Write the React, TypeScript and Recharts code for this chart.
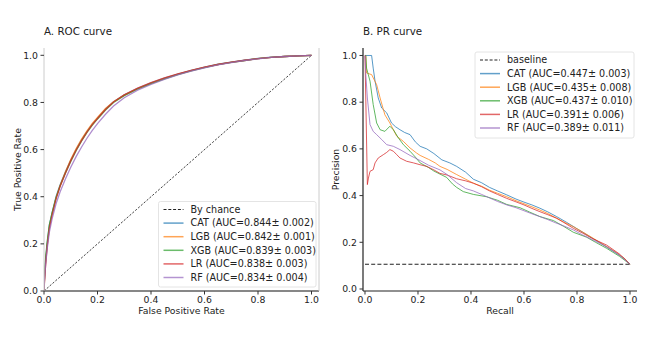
import { LineChart, Line, XAxis, YAxis } from "recharts"

const models = ["CAT", "LGB", "XGB", "LR", "RF"]
const colors = ["#1f77b4", "#ff7f0e", "#2ca02c", "#d62728", "#9467bd"]
const rocAuc = ["0.844± 0.002", "0.842± 0.001", "0.839± 0.003", "0.838± 0.003", "0.834± 0.004"]
const prAuc = ["0.447± 0.003", "0.435± 0.008", "0.437± 0.010", "0.391± 0.006", "0.389± 0.011"]
const ticks = [0, 0.2, 0.4, 0.6, 0.8, 1.0]

// [fpr, tpr]
const rocCat = [[0,0],[0.002,0.06],[0.006,0.13],[0.012,0.2],[0.02,0.28],[0.03,0.33],[0.045,0.4],[0.06,0.45],[0.08,0.505],[0.1,0.555],[0.12,0.6],[0.14,0.64],[0.16,0.675],[0.18,0.707],[0.2,0.733],[0.23,0.772],[0.26,0.803],[0.3,0.832],[0.35,0.86],[0.4,0.883],[0.45,0.903],[0.5,0.92],[0.55,0.936],[0.6,0.95],[0.65,0.962],[0.7,0.971],[0.75,0.979],[0.8,0.987],[0.85,0.992],[0.9,0.995],[0.95,0.998],[1,1]]
const rocLgb = [[0,0],[0.002,0.05],[0.006,0.12],[0.012,0.195],[0.02,0.27],[0.03,0.325],[0.045,0.395],[0.06,0.447],[0.08,0.505],[0.1,0.558],[0.12,0.603],[0.14,0.643],[0.16,0.678],[0.18,0.71],[0.2,0.736],[0.23,0.774],[0.26,0.803],[0.3,0.831],[0.35,0.858],[0.4,0.881],[0.45,0.901],[0.5,0.919],[0.55,0.935],[0.6,0.949],[0.65,0.961],[0.7,0.97],[0.75,0.978],[0.8,0.986],[0.85,0.991],[0.9,0.995],[0.95,0.998],[1,1]]
const rocXgb = [[0,0],[0.002,0.07],[0.006,0.14],[0.012,0.21],[0.02,0.28],[0.03,0.33],[0.045,0.395],[0.06,0.445],[0.08,0.5],[0.1,0.55],[0.12,0.595],[0.14,0.636],[0.16,0.672],[0.18,0.703],[0.2,0.73],[0.23,0.768],[0.26,0.8],[0.3,0.829],[0.35,0.857],[0.4,0.88],[0.45,0.9],[0.5,0.918],[0.55,0.934],[0.6,0.948],[0.65,0.96],[0.7,0.97],[0.75,0.978],[0.8,0.986],[0.85,0.991],[0.9,0.995],[0.95,0.998],[1,1]]
const rocLr = [[0,0],[0.002,0.04],[0.006,0.11],[0.012,0.19],[0.02,0.265],[0.03,0.32],[0.045,0.39],[0.06,0.443],[0.08,0.5],[0.1,0.552],[0.12,0.597],[0.14,0.637],[0.16,0.673],[0.18,0.705],[0.2,0.732],[0.23,0.77],[0.26,0.802],[0.3,0.832],[0.35,0.861],[0.4,0.884],[0.45,0.904],[0.5,0.921],[0.55,0.936],[0.6,0.95],[0.65,0.961],[0.7,0.971],[0.75,0.979],[0.8,0.986],[0.85,0.991],[0.9,0.995],[0.95,0.998],[1,1]]
const rocRf = [[0,0],[0.002,0.05],[0.006,0.11],[0.012,0.18],[0.02,0.25],[0.03,0.305],[0.045,0.37],[0.06,0.42],[0.08,0.475],[0.1,0.525],[0.12,0.57],[0.14,0.61],[0.16,0.647],[0.18,0.68],[0.2,0.71],[0.23,0.75],[0.26,0.785],[0.3,0.82],[0.35,0.852],[0.4,0.877],[0.45,0.898],[0.5,0.917],[0.55,0.933],[0.6,0.947],[0.65,0.959],[0.7,0.969],[0.75,0.978],[0.8,0.985],[0.85,0.991],[0.9,0.995],[0.95,0.998],[1,1]]
const chanceLine = [[0,0],[1,1]]

// [recall, precision]
const prCat = [[0,1],[0.025,1],[0.031,0.946],[0.038,0.89],[0.05,0.818],[0.063,0.775],[0.082,0.754],[0.1,0.711],[0.115,0.695],[0.132,0.682],[0.15,0.67],[0.17,0.661],[0.19,0.63],[0.208,0.611],[0.233,0.6],[0.26,0.58],[0.29,0.553],[0.32,0.54],[0.346,0.525],[0.38,0.5],[0.409,0.47],[0.44,0.455],[0.47,0.435],[0.5,0.42],[0.535,0.403],[0.57,0.385],[0.6,0.372],[0.63,0.36],[0.66,0.346],[0.69,0.33],[0.723,0.31],[0.76,0.286],[0.8,0.258],[0.849,0.224],[0.9,0.188],[0.95,0.152],[0.98,0.13],[1,0.106]]
const prLgb = [[0,1],[0.003,1],[0.006,0.925],[0.025,0.918],[0.044,0.875],[0.057,0.818],[0.075,0.746],[0.094,0.711],[0.107,0.682],[0.12,0.654],[0.145,0.632],[0.17,0.604],[0.195,0.582],[0.208,0.572],[0.24,0.555],[0.265,0.54],[0.283,0.525],[0.31,0.512],[0.346,0.49],[0.38,0.47],[0.409,0.453],[0.44,0.44],[0.47,0.423],[0.5,0.41],[0.535,0.395],[0.57,0.378],[0.6,0.365],[0.63,0.352],[0.66,0.338],[0.69,0.323],[0.72,0.305],[0.75,0.287],[0.786,0.267],[0.82,0.245],[0.86,0.218],[0.9,0.19],[0.95,0.155],[0.98,0.13],[1,0.106]]
const prXgb = [[0,1],[0.003,1],[0.006,0.946],[0.012,0.92],[0.019,0.89],[0.031,0.79],[0.044,0.711],[0.057,0.682],[0.075,0.675],[0.094,0.697],[0.107,0.682],[0.126,0.647],[0.145,0.618],[0.17,0.59],[0.19,0.565],[0.208,0.54],[0.24,0.52],[0.26,0.505],[0.283,0.492],[0.308,0.478],[0.33,0.45],[0.346,0.435],[0.371,0.417],[0.409,0.405],[0.459,0.395],[0.5,0.38],[0.535,0.362],[0.585,0.348],[0.62,0.33],[0.66,0.31],[0.711,0.293],[0.75,0.268],[0.786,0.243],[0.836,0.222],[0.87,0.2],[0.912,0.174],[0.96,0.14],[1,0.106]]
const prLr = [[0,1],[0.009,0.447],[0.013,0.475],[0.019,0.504],[0.031,0.511],[0.038,0.54],[0.05,0.561],[0.069,0.575],[0.082,0.585],[0.094,0.597],[0.107,0.59],[0.12,0.575],[0.132,0.561],[0.157,0.547],[0.183,0.54],[0.208,0.532],[0.233,0.525],[0.26,0.51],[0.283,0.495],[0.31,0.488],[0.346,0.472],[0.38,0.463],[0.409,0.453],[0.44,0.438],[0.47,0.42],[0.5,0.405],[0.535,0.388],[0.57,0.373],[0.6,0.36],[0.63,0.345],[0.66,0.331],[0.69,0.318],[0.723,0.303],[0.75,0.285],[0.786,0.26],[0.82,0.24],[0.86,0.215],[0.912,0.188],[0.96,0.15],[1,0.106]]
const prRf = [[0,1],[0.003,0.92],[0.009,0.818],[0.019,0.704],[0.031,0.675],[0.044,0.661],[0.063,0.64],[0.082,0.618],[0.107,0.611],[0.132,0.597],[0.17,0.572],[0.208,0.55],[0.24,0.53],[0.283,0.51],[0.31,0.49],[0.346,0.455],[0.38,0.43],[0.409,0.42],[0.44,0.405],[0.47,0.39],[0.5,0.375],[0.535,0.36],[0.57,0.348],[0.6,0.335],[0.63,0.322],[0.66,0.31],[0.69,0.297],[0.72,0.283],[0.75,0.27],[0.786,0.253],[0.82,0.232],[0.86,0.21],[0.912,0.181],[0.96,0.145],[1,0.106]]
const baseline = [[0,0.106],[1,0.106]]

const rocSeries = [rocCat, rocLgb, rocXgb, rocLr, rocRf]
const prSeries = [prCat, prLgb, prXgb, prLr, prRf]

const font = "DejaVu Sans"
const toPts = (pairs: number[][]) => pairs.map(([x, y]) => ({ x, y }))
const fmt = (v: number) => v.toFixed(1)
const tickStyle = { fontSize: 9.3, fill: "#222", fontFamily: font }

function LegendBox({ x, y, w, h, first, labels }: { x: number; y: number; w: number; h: number; first: string; labels: string[] }) {
  const row = 13.6
  return (
    <g>
      <rect x={x} y={y} width={w} height={h} fill="#fff" fillOpacity={0.85} stroke="#ddd" strokeWidth={0.8} rx={2} />
      <line x1={x + 5} x2={x + 25} y1={y + 8} y2={y + 8} stroke="#222" strokeWidth={1} strokeDasharray="3 1.8" />
      <text x={x + 32} y={y + 11.3} fontSize={9.6} fill="#222" fontFamily={font}>{first}</text>
      {labels.map((lab, i) => (
        <g key={lab}>
          <line x1={x + 5} x2={x + 25} y1={y + 8 + row * (i + 1)} y2={y + 8 + row * (i + 1)} stroke={colors[i]} strokeOpacity={0.7} strokeWidth={1.5} />
          <text x={x + 32} y={y + 11.3 + row * (i + 1)} fontSize={9.6} fill="#222" fontFamily={font}>{lab}</text>
        </g>
      ))}
    </g>
  )
}

export default function App() {
  return (
    <div style={{ position: "absolute", left: 0, top: 0, width: 647, height: 364, background: "#fff" }}>
      <div style={{ position: "absolute", left: 0, top: 0 }}>
        <LineChart width={330} height={364} margin={{ top: 48, right: 11, bottom: 43, left: 10 }}>
          <XAxis dataKey="x" type="number" domain={[0, 1.028]} allowDataOverflow ticks={ticks} tickFormatter={fmt} height={30}
            tick={tickStyle} tickSize={3.5} tickMargin={2} axisLine={{ stroke: "#111", strokeWidth: 1.2 }} tickLine={{ stroke: "#333" }} />
          <YAxis dataKey="y" type="number" domain={[0, 1.031]} allowDataOverflow ticks={ticks} tickFormatter={fmt} width={34}
            tick={tickStyle} tickSize={3.5} tickMargin={2.5} axisLine={{ stroke: "#ccc" }} tickLine={{ stroke: "#333" }} />
          <Line data={toPts(chanceLine)} dataKey="y" stroke="#111" strokeWidth={0.8} strokeDasharray="2.2 1.6" dot={false} isAnimationActive={false} />
          {rocSeries.map((s, i) => (
            <Line key={models[i]} data={toPts(s)} dataKey="y" stroke={colors[i]} strokeOpacity={0.75} strokeWidth={1.3} dot={false} isAnimationActive={false} />
          ))}
        </LineChart>
      </div>
      <div style={{ position: "absolute", left: 330, top: 0 }}>
        <LineChart width={317} height={364} margin={{ top: 48, right: 10, bottom: 43, left: 0 }}>
          <XAxis dataKey="x" type="number" domain={[-0.0075, 1.0264]} allowDataOverflow ticks={ticks} tickFormatter={fmt} height={30}
            tick={tickStyle} tickSize={3.5} tickMargin={2} axisLine={{ stroke: "#222", strokeWidth: 1.2 }} tickLine={{ stroke: "#333" }} />
          <YAxis dataKey="y" type="number" domain={[-0.0086, 1.032]} allowDataOverflow ticks={ticks} tickFormatter={fmt} width={33}
            tick={tickStyle} tickSize={3.5} tickMargin={2.5} axisLine={{ stroke: "#222", strokeWidth: 1.2 }} tickLine={{ stroke: "#333" }} />
          <Line data={toPts(baseline)} dataKey="y" stroke="#222" strokeWidth={1.2} strokeDasharray="4 2.2" dot={false} isAnimationActive={false} />
          {prSeries.map((s, i) => (
            <Line key={models[i]} data={toPts(s)} dataKey="y" stroke={colors[i]} strokeOpacity={0.75} strokeWidth={1} dot={false} isAnimationActive={false} />
          ))}
        </LineChart>
      </div>
      <svg width={647} height={364} style={{ position: "absolute", left: 0, top: 0, pointerEvents: "none" }}>
        <line x1={319} x2={319} y1={48} y2={291} stroke="#ccc" strokeWidth={1} />
        <text x={44} y={35} fontSize={10.3} fill="#222" fontFamily={font}>A. ROC curve</text>
        <text x={363} y={35} fontSize={10.3} fill="#222" fontFamily={font}>B. PR curve</text>
        <text x={181.5} y={313.5} fontSize={9.3} fill="#222" fontFamily={font} textAnchor="middle">False Positive Rate</text>
        <text x={500} y={313.5} fontSize={9.3} fill="#222" fontFamily={font} textAnchor="middle">Recall</text>
        <text transform="translate(20.5,169.5) rotate(-90)" fontSize={9.3} fill="#222" fontFamily={font} textAnchor="middle">True Positive Rate</text>
        <text transform="translate(338.5,169.5) rotate(-90)" fontSize={9.3} fill="#222" fontFamily={font} textAnchor="middle">Precision</text>
        <LegendBox x={158.5} y={201.5} w={157.5} h={85.5} first="By chance" labels={models.map((m, i) => `${m} (AUC=${rocAuc[i]})`)} />
        <LegendBox x={475} y={52} w={159} h={86} first="baseline" labels={models.map((m, i) => `${m} (AUC=${prAuc[i]})`)} />
      </svg>
    </div>
  )
}
